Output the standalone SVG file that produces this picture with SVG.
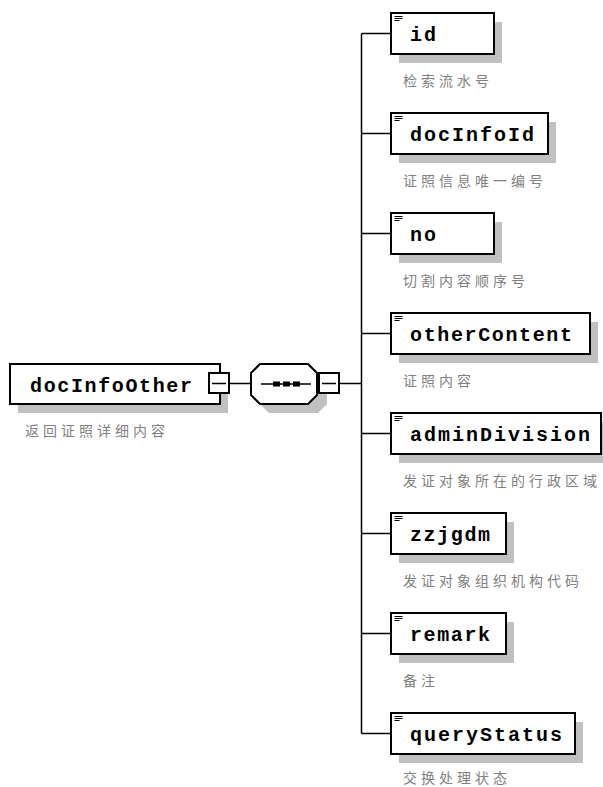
<svg xmlns="http://www.w3.org/2000/svg" width="603" height="787" viewBox="0 0 603 787">
<style>
.bg{fill:#ffffff}
.box{fill:#ffffff;stroke:#000000;stroke-width:2}
.sh{fill:#c0c0c0;stroke:none}
.ln{fill:none;stroke:#000000;stroke-width:1.5}
.lbl{font-family:"Liberation Mono","DejaVu Sans Mono",monospace;font-weight:bold;font-size:20px;fill:#000000}
.cap{font-family:"Noto Sans CJK SC","Noto Sans",sans-serif;font-size:14px;letter-spacing:4px;fill:#808080}
.ic{stroke:#000000;stroke-width:1}
</style>
<rect class="bg" x="0" y="0" width="603" height="787"/>
<defs>
<g id="icon"><path class="ic" d="M3.5 3.5h8M3.5 5.5h8M3.5 7.5h5"/></g>
</defs>
<g id="connectors">
<path class="ln" d="M230 383.5H251"/>
<path class="ln" d="M340 383.5H361.5"/>
<path class="ln" d="M361.5 33.5V733.5"/>
<path class="ln" d="M361.5 33.5H391"/>
<path class="ln" d="M361.5 133.5H391"/>
<path class="ln" d="M361.5 233.5H391"/>
<path class="ln" d="M361.5 333.5H391"/>
<path class="ln" d="M361.5 433.5H391"/>
<path class="ln" d="M361.5 533.5H391"/>
<path class="ln" d="M361.5 633.5H391"/>
<path class="ln" d="M361.5 733.5H391"/>
</g>
<g id="docInfoOther">
<rect class="sh" x="18" y="373" width="210" height="40"/>
<rect class="box" x="10" y="364" width="210" height="40"/>
<text class="lbl" x="30" y="392" textLength="162" lengthAdjust="spacing">docInfoOther</text>
<rect class="box" x="209" y="373" width="20" height="20" stroke-width="1.5"/>
<path class="ln" d="M212 383.5H226"/>
<text class="cap" x="25" y="436">返回证照详细内容</text>
</g>
<g id="sequence">
<path class="sh" d="M269 373H318L327 382V404L318 413H269L260 404V382Z"/>
<path class="box" d="M260 364H308L317 373V395L308 404H260L251 395V373Z"/>
<path class="ln" d="M261 384H311"/>
<rect x="273" y="381.5" width="7" height="5" fill="#000"/>
<rect x="283" y="381.5" width="7" height="5" fill="#000"/>
<rect x="293" y="381.5" width="7" height="5" fill="#000"/>
<rect class="box" x="319" y="373" width="20" height="20" stroke-width="1.5"/>
<path class="ln" d="M322 383.5H336"/>
</g>
<g id="id">
<rect class="sh" x="399" y="22" width="103" height="41"/>
<rect class="box" x="391" y="13" width="103" height="41"/>
<use href="#icon" x="391" y="13"/>
<text class="lbl" x="410" y="41" textLength="26" lengthAdjust="spacing">id</text>
<text class="cap" x="403" y="86">检索流水号</text>
</g>
<g id="docInfoId">
<rect class="sh" x="399" y="122" width="157" height="41"/>
<rect class="box" x="391" y="113" width="157" height="41"/>
<use href="#icon" x="391" y="113"/>
<text class="lbl" x="410" y="141" textLength="124" lengthAdjust="spacing">docInfoId</text>
<text class="cap" x="403" y="186">证照信息唯一编号</text>
</g>
<g id="no">
<rect class="sh" x="399" y="222" width="103" height="41"/>
<rect class="box" x="391" y="213" width="103" height="41"/>
<use href="#icon" x="391" y="213"/>
<text class="lbl" x="410" y="241" textLength="26" lengthAdjust="spacing">no</text>
<text class="cap" x="403" y="286">切割内容顺序号</text>
</g>
<g id="otherContent">
<rect class="sh" x="399" y="322" width="199" height="41"/>
<rect class="box" x="391" y="313" width="199" height="41"/>
<use href="#icon" x="391" y="313"/>
<text class="lbl" x="410" y="341" textLength="162" lengthAdjust="spacing">otherContent</text>
<text class="cap" x="403" y="386">证照内容</text>
</g>
<g id="adminDivision">
<rect class="sh" x="399" y="422" width="210" height="41"/>
<rect class="box" x="391" y="413" width="210" height="41"/>
<use href="#icon" x="391" y="413"/>
<text class="lbl" x="410" y="441" textLength="180" lengthAdjust="spacing">adminDivision</text>
<text class="cap" x="403" y="486">发证对象所在的行政区域</text>
</g>
<g id="zzjgdm">
<rect class="sh" x="399" y="522" width="115" height="41"/>
<rect class="box" x="391" y="513" width="115" height="41"/>
<use href="#icon" x="391" y="513"/>
<text class="lbl" x="410" y="541" textLength="80" lengthAdjust="spacing">zzjgdm</text>
<text class="cap" x="403" y="586">发证对象组织机构代码</text>
</g>
<g id="remark">
<rect class="sh" x="399" y="622" width="115" height="41"/>
<rect class="box" x="391" y="613" width="115" height="41"/>
<use href="#icon" x="391" y="613"/>
<text class="lbl" x="410" y="641" textLength="80" lengthAdjust="spacing">remark</text>
<text class="cap" x="403" y="686">备注</text>
</g>
<g id="queryStatus">
<rect class="sh" x="399" y="722" width="184" height="41"/>
<rect class="box" x="391" y="713" width="184" height="41"/>
<use href="#icon" x="391" y="713"/>
<text class="lbl" x="410" y="741" textLength="152" lengthAdjust="spacing">queryStatus</text>
<text class="cap" x="403" y="783">交换处理状态</text>
</g>
</svg>
